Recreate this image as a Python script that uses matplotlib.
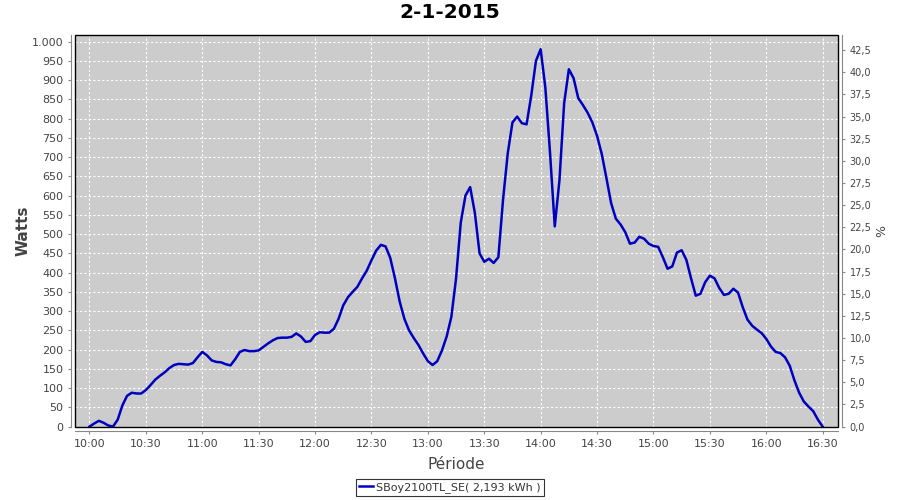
import matplotlib
matplotlib.use("Agg")
import matplotlib.pyplot as plt
import matplotlib.dates as mdates
from matplotlib.ticker import FixedLocator, FuncFormatter
from matplotlib.patches import Rectangle
import pandas as pd

title = "2-1-2015"
series_label = "SBoy2100TL_SE( 2,193 kWh )"
start_time = "2015-01-02 10:00"
step = "150s"
watts = [
    0, 8, 15, 10, 3, 0, 18, 55, 80, 88, 86, 86, 95, 108, 122, 132, 141, 152, 160, 163,
    162, 161, 165, 180, 194, 185, 172, 168, 167, 162, 159, 175, 194, 199, 196, 196, 198, 207, 216, 224,
    230, 231, 231, 233, 242, 234, 220, 222, 238, 245, 244, 244, 254, 280, 315, 336, 350, 363, 385, 405,
    432, 457, 472, 468, 438, 385, 325, 280, 250, 230, 212, 190, 170, 160, 170, 198, 234, 285, 385, 530,
    600, 622, 555, 450, 428, 436, 425, 440, 590, 710, 790, 805, 788, 785, 860, 950, 980, 880, 710, 520,
    640, 840, 928, 905, 853, 835, 815, 790, 755, 708, 645, 580, 540, 525, 505, 475, 478, 493, 488, 475,
    469, 467, 440, 410, 416, 452, 458, 433, 385, 340, 345, 375, 392, 385, 360, 342, 345, 358, 348, 310,
    278, 262, 252, 243, 228, 208, 194, 191, 180, 158, 120, 88, 65, 52, 40, 18, 0,
]
max_power = 2300  # right axis: % of max power
left_ticks = list(range(0, 1001, 50))
right_ticks = [i * 2.5 for i in range(18)]

times = pd.date_range(start_time, periods=len(watts), freq=step)

fig = plt.figure(figsize=(9, 5), dpi=100)
fig.patch.set_facecolor("white")
ax = fig.add_axes([75 / 900, 73 / 500, 763 / 900, 392 / 500])
ax.set_facecolor("#CCCCCC")

line, = ax.plot(times, watts, color="#0000C0", lw=1.8, solid_joinstyle="round")

ymin, ymax = -1, 1017
ax.set_ylim(ymin, ymax)
x0 = pd.Timestamp("2015-01-02 09:52:18")
x1 = pd.Timestamp("2015-01-02 16:38:10")
ax.set_xlim(x0, x1)

tick_color = "#444444"
ax.xaxis.set_major_locator(mdates.MinuteLocator(byminute=[0, 30]))
ax.xaxis.set_major_formatter(mdates.DateFormatter("%H:%M"))
ax.yaxis.set_major_locator(FixedLocator(left_ticks))
ax.yaxis.set_major_formatter(FuncFormatter(lambda v, p: f"{int(v):,}".replace(",", ".")))

ax.grid(True, color="white", linestyle=(0, (2, 2)), lw=0.8)
ax.set_axisbelow(True)

off = 4 * 72 / 100
for s in ["left", "bottom"]:
    ax.spines[s].set_position(("outward", off))
    ax.spines[s].set_color("#888888")
for s in ["top", "right"]:
    ax.spines[s].set_visible(False)
ax.tick_params(axis="both", colors="#888888", labelcolor=tick_color, labelsize=8, length=2, width=0.8)

ax.add_patch(Rectangle((0, 0), 1, 1, transform=ax.transAxes, fill=False,
                       edgecolor="black", lw=1.0, clip_on=False, zorder=5))

ax2 = ax.twinx()
ax2.set_ylim(ymin / max_power * 100, ymax / max_power * 100)
ax2.yaxis.set_major_locator(FixedLocator(right_ticks))
ax2.yaxis.set_major_formatter(FuncFormatter(lambda v, p: f"{v:.1f}".replace(".", ",")))
for s in ["left", "top", "bottom"]:
    ax2.spines[s].set_visible(False)
ax2.spines["right"].set_position(("outward", off))
ax2.spines["right"].set_color("#888888")
ax2.tick_params(axis="y", colors="#888888", labelcolor=tick_color, labelsize=7, length=2, width=0.8)
ax2.set_ylabel("%", color=tick_color, fontsize=9, labelpad=3)

ax.set_ylabel("Watts", fontsize=11, fontweight="bold", color="#444444", labelpad=1)
ax.set_xlabel("Période", fontsize=11, color="#444444", labelpad=6)
fig.text(0.5, 1 - 12 / 500, title, fontsize=14.5, fontweight="bold", ha="center", va="center")

leg = fig.legend([line], [series_label], loc="center", bbox_to_anchor=(0.5, 0.025),
                 frameon=True, fancybox=False, fontsize=8, handlelength=1.2,
                 handletextpad=0.3, borderpad=0.3, borderaxespad=0)
leg.get_frame().set_edgecolor("black")
leg.get_frame().set_linewidth(0.8)
for t in leg.get_texts():
    t.set_color("#333333")

fig.savefig("out.png", dpi=100)
